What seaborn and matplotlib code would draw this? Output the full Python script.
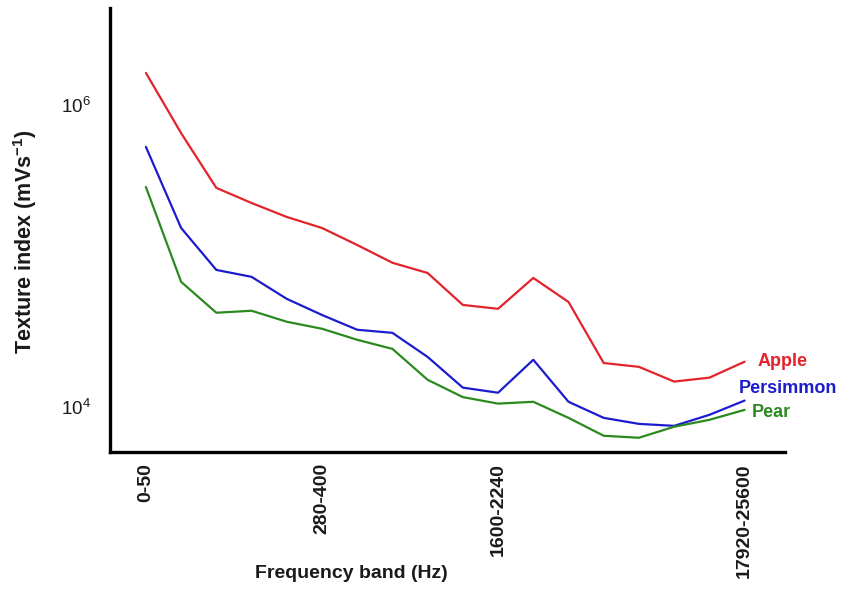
import pandas as pd
import numpy as np
import matplotlib
matplotlib.use("Agg")
import matplotlib.pyplot as plt
import seaborn as sns

# Texture index per frequency band (18 bands)
apple = [1.63e6, 6.5e5, 2.82e5, 2.24e5, 1.81e5, 1.53e5, 1.18e5, 9.0e4, 7.7e4,
         4.73e4, 4.46e4, 7.14e4, 4.95e4, 1.95e4, 1.84e4, 1.47e4, 1.56e4, 1.99e4]
persimmon = [5.27e5, 1.53e5, 8.07e4, 7.26e4, 5.19e4, 4.06e4, 3.24e4, 3.09e4, 2.14e4,
             1.34e4, 1.24e4, 2.05e4, 1.08e4, 8.45e3, 7.71e3, 7.48e3, 8.85e3, 1.10e4]
pear = [2.86e5, 6.73e4, 4.20e4, 4.33e4, 3.66e4, 3.29e4, 2.78e4, 2.42e4, 1.51e4,
        1.16e4, 1.05e4, 1.08e4, 8.45e3, 6.43e3, 6.24e3, 7.38e3, 8.20e3, 9.55e3]

band_idx = list(range(len(apple)))
tick_idx = [0, 5, 10, 17]
tick_labels = ["0-50", "280-400", "1600-2240", "17920-25600"]

colors = {"Apple": "#e3232b", "Persimmon": "#1c1ccf", "Pear": "#2b8a1f"}

df = pd.concat([
    pd.DataFrame({"band": band_idx, "value": apple, "fruit": "Apple"}),
    pd.DataFrame({"band": band_idx, "value": persimmon, "fruit": "Persimmon"}),
    pd.DataFrame({"band": band_idx, "value": pear, "fruit": "Pear"}),
])

sns.set_style("white")
plt.rcParams["font.family"] = ["Liberation Sans", "DejaVu Sans"]
plt.rcParams["text.color"] = "#1a1a1a"
plt.rcParams["axes.labelcolor"] = "#1a1a1a"
plt.rcParams["xtick.color"] = "#1a1a1a"
plt.rcParams["ytick.color"] = "#1a1a1a"

fig = plt.figure(figsize=(8.46, 5.91), dpi=100)
ax = fig.add_axes([0.130, 0.235, 0.798, 0.751])

sns.lineplot(data=df, x="band", y="value", hue="fruit", palette=colors,
             linewidth=1.6, legend=False, ax=ax)

ax.set_yscale("log")
ax.set_ylim(10**3.70, 10**6.64)
ax.set_xlim(-1.02, 18.15)

ax.set_yticks([1e4, 1e6])
ax.set_yticklabels(["$\\mathregular{10^4}$", "$\\mathregular{10^6}$"], fontsize=13.5)
ax.yaxis.set_minor_locator(matplotlib.ticker.NullLocator())
ax.set_xticks(tick_idx)
ax.set_xticklabels(tick_labels, rotation=90, fontsize=14, fontweight="bold")
ax.tick_params(axis="both", length=0)
ax.tick_params(axis="y", pad=14)
ax.tick_params(axis="x", pad=8)

for s in ["top", "right"]:
    ax.spines[s].set_visible(False)
for s in ["left", "bottom"]:
    ax.spines[s].set_color("black")
    ax.spines[s].set_linewidth(2.4)

ax.set_xlabel("Frequency band (Hz)", fontsize=14, fontweight="bold")
ax.xaxis.set_label_coords(0.358, -0.255)
ax.set_ylabel("Texture index (mVs$^{\\mathregular{-1}}$)", fontsize=15.5, fontweight="bold")
ax.yaxis.set_label_coords(-0.105, 0.473)

# Series labels at the line ends
last = len(apple) - 1
ax.annotate("Apple", xy=(last, apple[-1]), xytext=(9, 0), textcoords="offset points",
            color=colors["Apple"], fontsize=13, fontweight="bold", va="center")
ax.annotate("Persimmon", xy=(last, persimmon[-1]), xytext=(-4, 9), textcoords="offset points",
            color=colors["Persimmon"], fontsize=13, fontweight="bold", va="center")
ax.annotate("Pear", xy=(last, pear[-1]), xytext=(5, -2), textcoords="offset points",
            color=colors["Pear"], fontsize=13, fontweight="bold", va="center")

fig.savefig("out.png", dpi=100)
